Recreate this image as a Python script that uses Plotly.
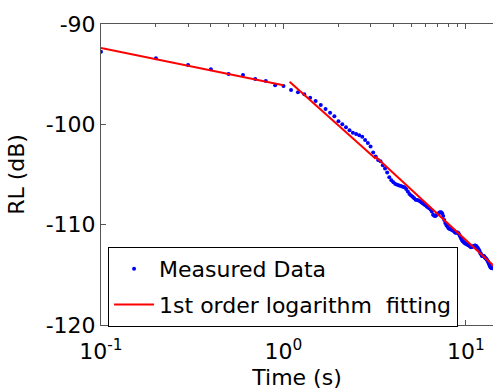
import plotly.graph_objects as go

# Measured data (time in s, RL in dB)
time_s = [0.1, 0.2, 0.3, 0.4, 0.5, 0.6, 0.7, 0.8, 0.9, 1.0,
          1.1, 1.2, 1.3, 1.4, 1.5, 1.6, 1.7, 1.8, 1.9, 2.0,
          2.1, 2.2, 2.3, 2.4, 2.5, 2.6, 2.7, 2.8, 2.9, 3.0,
          3.1, 3.2, 3.3, 3.4, 3.5, 3.6, 3.7, 3.8, 3.9, 4.0,
          4.1, 4.2, 4.3, 4.4, 4.5, 4.6, 4.7, 4.8, 4.9, 5.0,
          5.1, 5.2, 5.3, 5.4, 5.5, 5.6, 5.7, 5.8, 5.9, 6.0,
          6.1, 6.2, 6.3, 6.4, 6.5, 6.6, 6.7, 6.8, 6.9, 7.0,
          7.1, 7.2, 7.3, 7.4, 7.5, 7.6, 7.7, 7.8, 7.9, 8.0,
          8.1, 8.2, 8.3, 8.4, 8.5, 8.6, 8.7, 8.8, 8.9, 9.0,
          9.1, 9.2, 9.3, 9.4, 9.5, 9.6, 9.7, 9.8, 9.9, 10.0,
          10.1, 10.2, 10.3, 10.4, 10.5, 10.6, 10.7, 10.8, 10.9, 11.0,
          11.1, 11.2, 11.3, 11.4, 11.5, 11.6, 11.7, 11.8, 11.9, 12.0,
          12.1, 12.2, 12.3, 12.4, 12.5, 12.6, 12.7, 12.8, 12.9, 13.0,
          13.1, 13.2, 13.3, 13.4, 13.5, 13.6, 13.7, 13.8, 13.9, 14.0,
          14.1, 14.2]
rl_db = [-92.76, -93.42, -94.09, -94.52, -94.99, -95.08, -95.48, -95.68, -96.11, -96.18,
         -96.58, -96.81, -97.01, -97.35, -97.68, -98.08, -98.47, -98.85, -99.20, -99.70,
         -100.00, -100.30, -100.60, -100.85, -100.97, -101.10, -101.24, -101.55, -101.85, -102.20,
         -102.80, -103.20, -103.55, -103.67, -104.08, -104.39, -104.79, -105.28, -105.57, -105.76,
         -105.94, -106.01, -106.09, -106.15, -106.22, -106.28, -106.44, -106.69, -106.94, -107.09,
         -107.23, -107.37, -107.51, -107.55, -107.58, -107.66, -107.79, -107.87, -107.99, -108.07,
         -108.19, -108.30, -108.37, -108.49, -108.70, -109.01, -109.12, -109.13, -109.04, -108.94,
         -108.84, -108.75, -108.75, -108.85, -109.14, -109.54, -109.84, -110.03, -110.17, -110.32,
         -110.41, -110.45, -110.48, -110.52, -110.61, -110.64, -110.78, -110.81, -110.79, -110.77,
         -110.85, -111.03, -111.21, -111.39, -111.52, -111.65, -111.72, -111.80, -111.87, -111.89,
         -111.92, -111.99, -112.06, -112.08, -112.15, -112.22, -112.24, -112.20, -112.17, -112.14,
         -112.10, -112.07, -112.09, -112.15, -112.26, -112.33, -112.44, -112.55, -112.71, -112.87,
         -112.93, -113.09, -113.12, -113.13, -113.12, -113.18, -113.26, -113.34, -113.40, -113.46,
         -113.58, -113.70, -113.82, -113.98, -114.13, -114.22, -114.29, -114.32, -114.35, -114.30,
         -114.30, -114.35]

# 1st order logarithm fitting: piecewise segments (start/end time, start/end RL)
fit_t_start = [0.1, 1.08, 3.2]
fit_t_end = [1.0, 3.2, 14.5]
fit_db_start = [-92.4, -95.75, -103.23]
fit_db_end = [-96.1, -103.44, -114.25]

x_tick_vals = [0.1, 1, 10]
x_tick_text = ["10<sup>-1</sup>", "10<sup>0</sup>", "10<sup>1</sup>"]
x_minor_vals = [0.2, 0.3, 0.4, 0.5, 0.6, 0.7, 0.8, 0.9, 2, 3, 4, 5, 6, 7, 8, 9]
y_tick_vals = [-120, -110, -100, -90]
y_tick_text = ["-120", "-110", "-100", "-90"]

fit_x, fit_y = [], []
for a, b, c, d in zip(fit_t_start, fit_t_end, fit_db_start, fit_db_end):
    fit_x += [a, b, None]
    fit_y += [c, d, None]

FONT = "DejaVu Sans, Arial, sans-serif"
AX = "#555555"

fig = go.Figure()
fig.add_trace(go.Scatter(
    x=time_s, y=rl_db, mode="markers", name="Measured Data",
    marker=dict(color="#0000ff", size=4, symbol="circle", line=dict(width=0)),
    legendgroup="a"))
fig.add_trace(go.Scatter(
    x=fit_x, y=fit_y, mode="lines", name="1st order logarithm\u00a0\u00a0fitting",
    line=dict(color="#ff0000", width=2), connectgaps=False, legendgroup="b"))

fig.update_layout(
    width=493, height=390,
    margin=dict(l=101, r=0, t=24, b=65),
    paper_bgcolor="white", plot_bgcolor="white",
    font=dict(family=FONT, size=21, color="black"),
    showlegend=True,
    legend=dict(
        x=0.018, y=0.259, xanchor="left", yanchor="top",
        bgcolor="white", bordercolor="black", borderwidth=1,
        font=dict(family=FONT, size=22, color="black"),
        tracegroupgap=4, itemwidth=40,
    ),
    xaxis=dict(
        type="log", range=[-1, 1.148],
        tickvals=x_tick_vals, ticktext=x_tick_text,
        ticks="inside", ticklen=5, tickcolor=AX, tickwidth=1,
        showline=True, linecolor=AX, linewidth=1, mirror="ticks",
        showgrid=False, zeroline=False,
        minor=dict(tickvals=x_minor_vals, ticks="inside", ticklen=3, tickcolor=AX, showgrid=False),
        tickfont=dict(size=22), ticklabelstandoff=7,
        title=dict(text="Time (s)", font=dict(size=22), standoff=6),
        automargin=False,
    ),
    yaxis=dict(
        range=[-120, -90],
        tickvals=y_tick_vals, ticktext=y_tick_text,
        ticks="inside", ticklen=5, tickcolor=AX, tickwidth=1,
        showline=True, linecolor=AX, linewidth=1, mirror=False,
        showgrid=False, zeroline=False,
        tickfont=dict(size=22),
        title=dict(text="RL (dB)", font=dict(size=22), standoff=14),
        automargin=False,
    ),
)

fig.write_html("out.html")
